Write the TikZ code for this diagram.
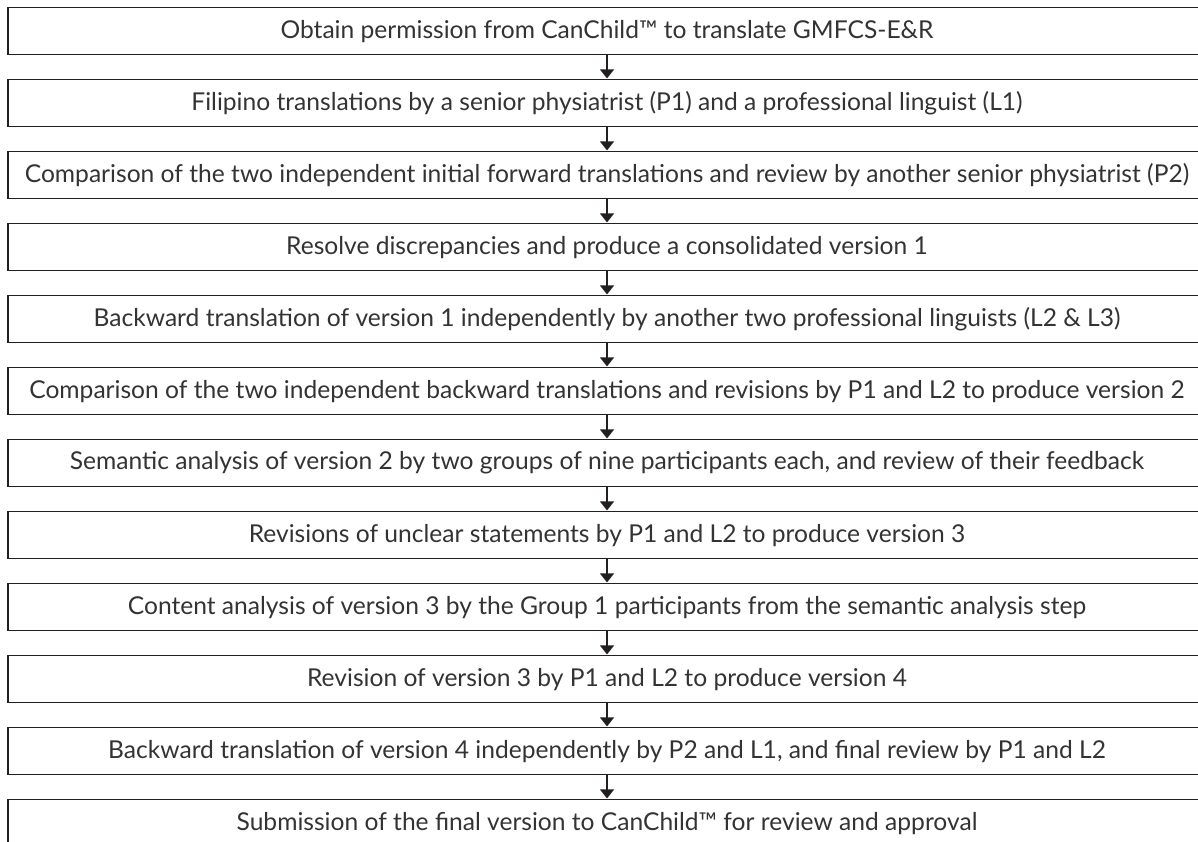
\documentclass[tikz,border=0pt]{standalone}
\usepackage{fontspec}
\setmainfont{Lato}
\usetikzlibrary{arrows.meta}
\definecolor{linec}{HTML}{231F20}
\definecolor{textc}{HTML}{333333}
\begin{document}
\begin{tikzpicture}[x=1pt,y=-1pt,
  stepbox/.style={draw=linec, line width=1.3pt, minimum width=1198pt, minimum height=47pt,
    inner sep=0pt, text=textc, font=\fontsize{24.6}{28}\selectfont, anchor=north},
  arr/.style={draw=linec, line width=1.2pt, -{Triangle[width=14pt,length=9pt]}, shorten >=0.6pt}]
\useasboundingbox (0,0) rectangle (1198,841);
\clip (0,0) rectangle (1198,841);
\node[stepbox] (b1) at (607,7) {Obtain permission from CanChild™ to translate GMFCS-E\&R};
\node[stepbox] (b2) at (607,79) {Filipino translations by a senior physiatrist (P1) and a professional linguist (L1)};
\node[stepbox] (b3) at (607,151) {Comparison of the two independent initial forward translations and review by another senior physiatrist (P2)};
\node[stepbox] (b4) at (607,223) {Resolve discrepancies and produce a consolidated version 1};
\node[stepbox] (b5) at (607,295) {Backward translation of version 1 independently by another two professional linguists (L2 \& L3)};
\node[stepbox] (b6) at (607,367) {Comparison of the two independent backward translations and revisions by P1 and L2 to produce version 2};
\node[stepbox] (b7) at (607,439) {Semantic analysis of version 2 by two groups of nine participants each, and review of their feedback};
\node[stepbox] (b8) at (607,511) {Revisions of unclear statements by P1 and L2 to produce version 3};
\node[stepbox] (b9) at (607,583) {Content analysis of version 3 by the Group 1 participants from the semantic analysis step};
\node[stepbox] (b10) at (607,655) {Revision of version 3 by P1 and L2 to produce version 4};
\node[stepbox] (b11) at (607,727) {Backward translation of version 4 independently by P2 and L1, and final review by P1 and L2};
\node[stepbox] (b12) at (607,799) {Submission of the final version to CanChild™ for review and approval};
\foreach \a/\b in {b1/b2,b2/b3,b3/b4,b4/b5,b5/b6,b6/b7,b7/b8,b8/b9,b9/b10,b10/b11,b11/b12}
  \draw[arr] (\a.south) -- (\b.north);
\end{tikzpicture}
\end{document}
